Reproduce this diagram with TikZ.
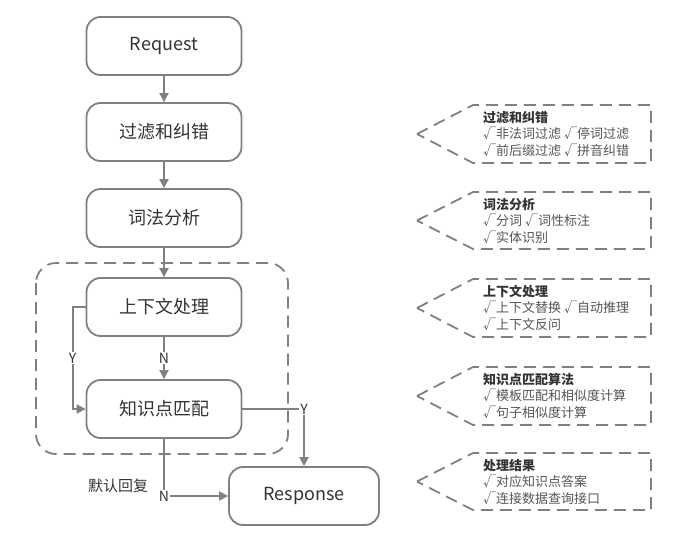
\documentclass[tikz,border=0pt]{standalone}
\usepackage{fontspec}
\setmainfont{Noto Sans CJK SC}
\usetikzlibrary{arrows.meta}
\definecolor{lc}{HTML}{808080}
\definecolor{tc}{HTML}{333333}
\definecolor{gc}{HTML}{555555}
\begin{document}
\begin{tikzpicture}[x=1pt,y=-1pt,
 box/.style={draw=lc, line width=1.8pt, rounded corners=14pt, minimum width=155pt, minimum height=58pt, text=tc, font=\fontsize{18}{22}\selectfont, inner sep=0pt},
 arr/.style={draw=lc, line width=1.8pt, -{Triangle[length=9pt,width=9pt]}},
 ln/.style={draw=lc, line width=1.8pt},
 lab/.style={fill=white, text=tc, font=\fontsize{14}{16}\selectfont, inner sep=1pt},
 call/.style={draw=lc, line width=1.8pt, dash pattern=on 12pt off 7pt},
 ctext/.style={align=left, anchor=north west, inner sep=0pt, font=\fontsize{13}{16.5}\selectfont, text=gc}
]
\useasboundingbox (0,0) rectangle (700,538);
% group
\draw[call] [rounded corners=20pt] (36,263) rectangle (288,454);
% boxes
\node[box] (req) at (164,46) {Request};
\node[box] (flt) at (164,132) {过滤和纠错};
\node[box] (lex) at (164,218) {词法分析};
\node[box] (ctx) at (164,307) {上下文处理};
\node[box] (kn) at (164,409) {知识点匹配};
\node[box, minimum width=150pt] (resp) at (304,496) {Response};
% connectors
\draw[arr] (req) -- (flt);
\draw[arr] (flt) -- (lex);
\draw[arr] (lex) -- (ctx);
\draw[arr] (ctx) -- node[lab]{N} (kn);
\draw[arr] (ctx.west) -- ++(-13,0) |- node[pos=0.25, lab]{Y} (kn.west);
\draw[arr] (kn.east) -- (kn.east -| resp.north) node[lab]{Y} -- (resp.north);
\draw[arr] (kn.south) -- (kn.south |- resp.west) node[lab]{N} -- (resp.west);
\node[text=tc, font=\fontsize{15}{17}\selectfont, inner sep=0pt] (dflt) at (118,486) {默认回复};
% callouts
\foreach \t/\b/\name/\title/\la/\lb in {
 105/163/c1/过滤和纠错/√非法词过滤 √停词过滤/√前后缀过滤 √拼音纠错,
 192/249/c2/词法分析/√分词 √词性标注/√实体识别,
 279/337/c3/上下文处理/√上下文替换 √自动推理/√上下文反问,
 367/425/c4/知识点匹配算法/√模板匹配和相似度计算/√句子相似度计算,
 453/510/c5/处理结果/√对应知识点答案/√连接数据查询接口}{
 \draw[call] (417,{(\t+\b)/2}) -- (473,\t) -- (651,\t) -- (651,\b) -- (473,\b) -- cycle;
 \node[ctext] (\name) at (483,\t+6) {{\color{tc}\bfseries \title}\\ \la\\ \lb};
}
\end{tikzpicture}
\end{document}
